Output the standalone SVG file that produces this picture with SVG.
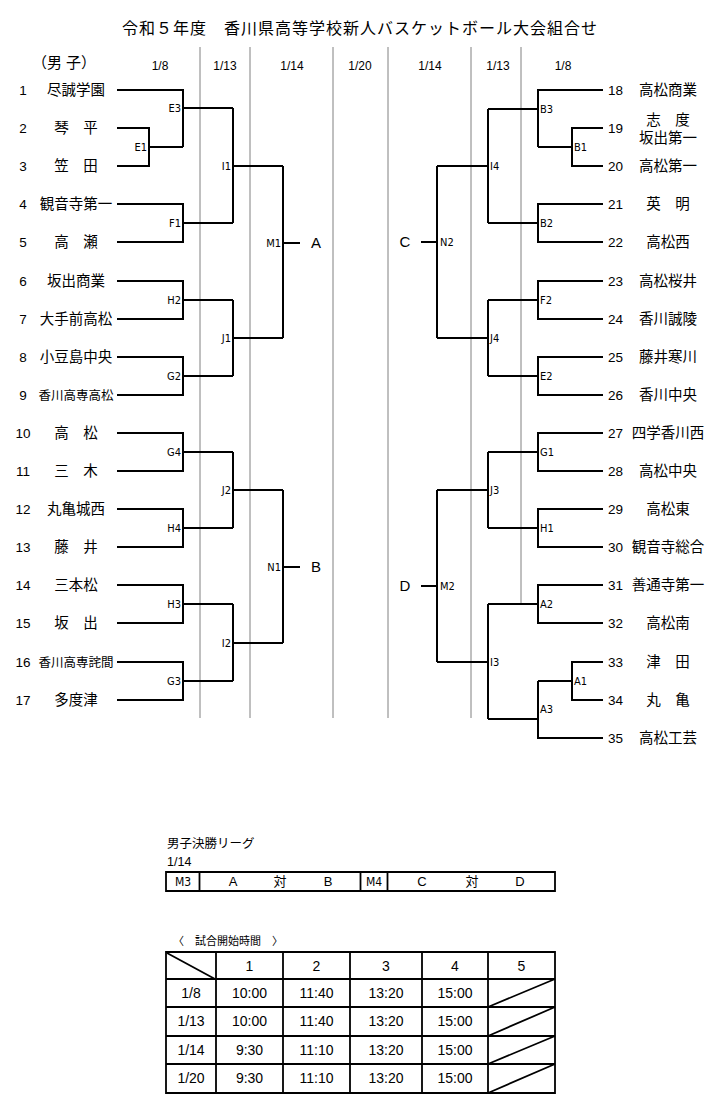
<svg xmlns="http://www.w3.org/2000/svg" width="720" height="1104" viewBox="0 0 720 1104">
<style>
text{font-family:"Liberation Sans","Noto Sans CJK JP",sans-serif;fill:#000}
.t{font-size:16px;letter-spacing:1px}
.hd{font-size:12px}
.nm{font-size:14.5px;text-anchor:middle}
.sm{font-size:12.5px;text-anchor:middle}
.no{font-size:13.5px;text-anchor:middle}
.lb{font-family:"Liberation Sans Narrow","DejaVu Sans Condensed","Liberation Sans",sans-serif;font-size:11px}
.le{text-anchor:end}
.big{font-size:15px;text-anchor:middle}
.tb{font-size:14px;text-anchor:middle}
.ts{font-size:11px}
.fl{font-size:12.5px}
.fc{font-size:13px;text-anchor:middle}
.g{stroke:#808080;stroke-width:1;fill:none}
.k{stroke:#000;stroke-width:2;fill:none}
.b{stroke:#000;stroke-width:1.8;fill:none}
</style>
<rect width="720" height="1104" fill="#fff"/>
<text class="t" x="360" y="34" text-anchor="middle">令和５年度　香川県高等学校新人バスケットボール大会組合せ</text>
<g id="headers">
<text class="nm" x="64" y="68" style="font-size:15px">（男 子）</text>
<text class="hd" x="160" y="70" text-anchor="middle">1/8</text>
<text class="hd" x="225" y="70" text-anchor="middle">1/13</text>
<text class="hd" x="292" y="70" text-anchor="middle">1/14</text>
<text class="hd" x="360" y="70" text-anchor="middle">1/20</text>
<text class="hd" x="430" y="70" text-anchor="middle">1/14</text>
<text class="hd" x="498" y="70" text-anchor="middle">1/13</text>
<text class="hd" x="563" y="70" text-anchor="middle">1/8</text>
</g>
<g id="dividers">
<path class="g" d="M200,47V718M250,47V718M333,47V718M388,47V718M471,47V718M521,47V604"/>
</g>
<g id="connectors">
<path class="k" d="M117,128H149V166H117M149,147H183"/>
<path class="k" d="M117,90H183V147M183,108H233"/>
<path class="k" d="M117,204H183V242H117M183,223H233"/>
<path class="k" d="M233,108V223M233,166H283"/>
<path class="k" d="M117,281H183V319H117M183,300H233"/>
<path class="k" d="M117,357H183V395H117M183,376H233"/>
<path class="k" d="M233,300V376M233,338H283"/>
<path class="k" d="M283,166V338M283,243H300"/>
<path class="k" d="M117,433H183V471H117M183,452H233"/>
<path class="k" d="M117,509H183V547H117M183,528H233"/>
<path class="k" d="M233,452V528M233,490H283"/>
<path class="k" d="M117,585H183V623H117M183,604H233"/>
<path class="k" d="M117,662H183V700H117M183,681H233"/>
<path class="k" d="M233,604V681M233,643H283"/>
<path class="k" d="M283,490V643M283,567H300"/>
<path class="k" d="M603,128H572V166H603M572,147H538"/>
<path class="k" d="M603,90H538V147M538,109H488"/>
<path class="k" d="M603,204H538V242H603M538,223H488"/>
<path class="k" d="M488,109V223M488,166H437"/>
<path class="k" d="M603,281H538V319H603M538,300H488"/>
<path class="k" d="M603,357H538V395H603M538,376H488"/>
<path class="k" d="M488,300V376M488,338H437"/>
<path class="k" d="M437,166V338M437,242H421"/>
<path class="k" d="M603,433H538V471H603M538,452H488"/>
<path class="k" d="M603,509H538V547H603M538,528H488"/>
<path class="k" d="M488,452V528M488,490H437"/>
<path class="k" d="M603,585H538V623H603M538,604H488"/>
<path class="k" d="M603,662H572V700H603M572,681H538"/>
<path class="k" d="M603,738H538V681M538,719H488"/>
<path class="k" d="M488,604V719M488,662H437"/>
<path class="k" d="M437,490V662M437,586H421"/>
</g>
<g id="teams-left">
<g id="t1"><text class="no" x="23" y="95">1</text><text class="nm" x="76" y="95">尽誠学園</text></g>
<g id="t2"><text class="no" x="23" y="133">2</text><text class="nm" x="76" y="133">琴　平</text></g>
<g id="t3"><text class="no" x="23" y="171">3</text><text class="nm" x="76" y="171">笠　田</text></g>
<g id="t4"><text class="no" x="23" y="209">4</text><text class="nm" x="76" y="209">観音寺第一</text></g>
<g id="t5"><text class="no" x="23" y="247">5</text><text class="nm" x="76" y="247">高　瀬</text></g>
<g id="t6"><text class="no" x="23" y="286">6</text><text class="nm" x="76" y="286">坂出商業</text></g>
<g id="t7"><text class="no" x="23" y="324">7</text><text class="nm" x="76" y="324">大手前高松</text></g>
<g id="t8"><text class="no" x="23" y="362">8</text><text class="nm" x="76" y="362">小豆島中央</text></g>
<g id="t9"><text class="no" x="23" y="400">9</text><text class="sm" x="76" y="399.5">香川高専高松</text></g>
<g id="t10"><text class="no" x="23" y="438">10</text><text class="nm" x="76" y="438">高　松</text></g>
<g id="t11"><text class="no" x="23" y="476">11</text><text class="nm" x="76" y="476">三　木</text></g>
<g id="t12"><text class="no" x="23" y="514">12</text><text class="nm" x="76" y="514">丸亀城西</text></g>
<g id="t13"><text class="no" x="23" y="552">13</text><text class="nm" x="76" y="552">藤　井</text></g>
<g id="t14"><text class="no" x="23" y="590">14</text><text class="nm" x="76" y="590">三本松</text></g>
<g id="t15"><text class="no" x="23" y="628">15</text><text class="nm" x="76" y="628">坂　出</text></g>
<g id="t16"><text class="no" x="23" y="667">16</text><text class="sm" x="76" y="666.5">香川高専詫間</text></g>
<g id="t17"><text class="no" x="23" y="705">17</text><text class="nm" x="76" y="705">多度津</text></g>
</g>
<g id="teams-right">
<g id="t18"><text class="no" x="615.5" y="95">18</text><text class="nm" x="668" y="95">高松商業</text></g>
<g id="t19"><text class="no" x="615.5" y="133">19</text><text class="nm" x="668" y="125">志　度</text><text class="nm" x="668" y="143">坂出第一</text></g>
<g id="t20"><text class="no" x="615.5" y="171">20</text><text class="nm" x="668" y="171">高松第一</text></g>
<g id="t21"><text class="no" x="615.5" y="209">21</text><text class="nm" x="668" y="209">英　明</text></g>
<g id="t22"><text class="no" x="615.5" y="247">22</text><text class="nm" x="668" y="247">高松西</text></g>
<g id="t23"><text class="no" x="615.5" y="286">23</text><text class="nm" x="668" y="286">高松桜井</text></g>
<g id="t24"><text class="no" x="615.5" y="324">24</text><text class="nm" x="668" y="324">香川誠陵</text></g>
<g id="t25"><text class="no" x="615.5" y="362">25</text><text class="nm" x="668" y="362">藤井寒川</text></g>
<g id="t26"><text class="no" x="615.5" y="400">26</text><text class="nm" x="668" y="400">香川中央</text></g>
<g id="t27"><text class="no" x="615.5" y="438">27</text><text class="nm" x="668" y="438">四学香川西</text></g>
<g id="t28"><text class="no" x="615.5" y="476">28</text><text class="nm" x="668" y="476">高松中央</text></g>
<g id="t29"><text class="no" x="615.5" y="514">29</text><text class="nm" x="668" y="514">高松東</text></g>
<g id="t30"><text class="no" x="615.5" y="552">30</text><text class="nm" x="668" y="552">観音寺総合</text></g>
<g id="t31"><text class="no" x="615.5" y="590">31</text><text class="nm" x="668" y="590">善通寺第一</text></g>
<g id="t32"><text class="no" x="615.5" y="628">32</text><text class="nm" x="668" y="628">高松南</text></g>
<g id="t33"><text class="no" x="615.5" y="667">33</text><text class="nm" x="668" y="667">津　田</text></g>
<g id="t34"><text class="no" x="615.5" y="705">34</text><text class="nm" x="668" y="705">丸　亀</text></g>
<g id="t35"><text class="no" x="615.5" y="743">35</text><text class="nm" x="668" y="743">高松工芸</text></g>
</g>
<g id="matches-left">
<text class="lb le" x="147" y="151">E1</text>
<text class="lb le" x="181" y="112">E3</text>
<text class="lb le" x="181" y="227">F1</text>
<text class="lb le" x="231" y="170">I1</text>
<text class="lb le" x="181" y="304">H2</text>
<text class="lb le" x="181" y="380">G2</text>
<text class="lb le" x="231" y="342">J1</text>
<text class="lb le" x="281" y="247">M1</text>
<text class="lb le" x="181" y="456">G4</text>
<text class="lb le" x="181" y="532">H4</text>
<text class="lb le" x="231" y="494">J2</text>
<text class="lb le" x="181" y="608">H3</text>
<text class="lb le" x="181" y="685">G3</text>
<text class="lb le" x="231" y="647">I2</text>
<text class="lb le" x="281" y="571">N1</text>
<text class="big" x="316" y="248">A</text>
<text class="big" x="316" y="572">B</text>
</g>
<g id="matches-right">
<text class="lb" x="574" y="151">B1</text>
<text class="lb" x="540" y="113">B3</text>
<text class="lb" x="540" y="227">B2</text>
<text class="lb" x="490" y="170">I4</text>
<text class="lb" x="540" y="304">F2</text>
<text class="lb" x="540" y="380">E2</text>
<text class="lb" x="490" y="342">J4</text>
<text class="lb" x="440" y="246">N2</text>
<text class="lb" x="540" y="456">G1</text>
<text class="lb" x="540" y="532">H1</text>
<text class="lb" x="490" y="494">J3</text>
<text class="lb" x="540" y="608">A2</text>
<text class="lb" x="574" y="685">A1</text>
<text class="lb" x="540" y="713">A3</text>
<text class="lb" x="490" y="666">I3</text>
<text class="lb" x="440" y="590">M2</text>
<text class="big" x="405" y="247">C</text>
<text class="big" x="405" y="591">D</text>
</g>
<g id="final-league">
<text class="fl" x="167" y="848">男子決勝リーグ</text>
<text class="fl" x="167" y="866">1/14</text>
<path class="b" d="M166,872H555V891H166ZM199.5,872V891M360.5,872V891M387.5,872V891"/>
<text class="lb" x="183" y="885.5" text-anchor="middle" style="font-size:12px">M3</text>
<text class="fc" x="233" y="886">A</text>
<text class="fc" x="280" y="886">対</text>
<text class="fc" x="328" y="886">B</text>
<text class="lb" x="374" y="885.5" text-anchor="middle" style="font-size:12px">M4</text>
<text class="fc" x="422" y="886">C</text>
<text class="fc" x="472" y="886">対</text>
<text class="fc" x="520" y="886">D</text>
</g>
<g id="schedule">
<text class="ts" x="173" y="945">〈　試合開始時間　〉</text>
<path class="b" d="M166,952H555V1093H166ZM216,952V1093M283,952V1093M350,952V1093M422,952V1093M488,952V1093M166,979H555M166,1007H555M166,1036H555M166,1064H555"/>
<path class="b" d="M167,953L215,979M488,1007L555,979M488,1036L555,1007M488,1064L555,1036M488,1093L555,1064"/>
<text class="tb" x="249.5" y="971">1</text>
<text class="tb" x="316.5" y="971">2</text>
<text class="tb" x="386" y="971">3</text>
<text class="tb" x="455" y="971">4</text>
<text class="tb" x="521.5" y="971">5</text>
<text class="tb" x="191" y="998">1/8</text>
<text class="tb" x="249.5" y="998">10:00</text>
<text class="tb" x="316.5" y="998">11:40</text>
<text class="tb" x="386" y="998">13:20</text>
<text class="tb" x="455" y="998">15:00</text>
<text class="tb" x="191" y="1026">1/13</text>
<text class="tb" x="249.5" y="1026">10:00</text>
<text class="tb" x="316.5" y="1026">11:40</text>
<text class="tb" x="386" y="1026">13:20</text>
<text class="tb" x="455" y="1026">15:00</text>
<text class="tb" x="191" y="1055">1/14</text>
<text class="tb" x="249.5" y="1055">9:30</text>
<text class="tb" x="316.5" y="1055">11:10</text>
<text class="tb" x="386" y="1055">13:20</text>
<text class="tb" x="455" y="1055">15:00</text>
<text class="tb" x="191" y="1083">1/20</text>
<text class="tb" x="249.5" y="1083">9:30</text>
<text class="tb" x="316.5" y="1083">11:10</text>
<text class="tb" x="386" y="1083">13:20</text>
<text class="tb" x="455" y="1083">15:00</text>
</g>
</svg>
